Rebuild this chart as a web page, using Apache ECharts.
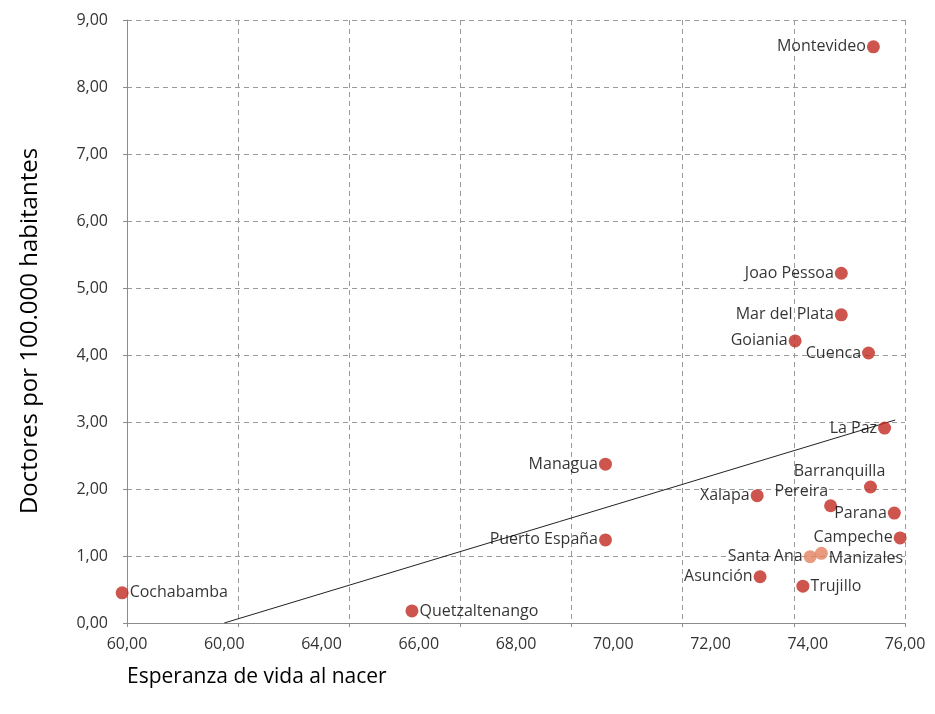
<!DOCTYPE html>
<html>
<head>
<meta charset="utf-8">
<script src="https://cdn.jsdelivr.net/npm/echarts@6/dist/echarts.min.js"></script>
<style>
html,body{margin:0;padding:0;background:#fff;}
#chart{width:935px;height:714px;}
</style>
</head>
<body>
<div id="chart"></div>
<script>
// ---- data ----
var cities = ['Montevideo','Joao Pessoa','Mar del Plata','Goiania','Cuenca','La Paz','Managua','Puerto España','Xalapa','Barranquilla','Pereira','Parana','Campeche','Santa Ana','Manizales','Asunción','Trujillo','Cochabamba','Quetzaltenango'];
var lifeExpectancy = [75.35,74.69,74.69,73.74,75.25,75.58,69.84,69.84,72.96,75.29,74.47,75.78,75.90,74.05,74.28,73.02,73.90,59.90,65.86];
var doctors = [8.60,5.22,4.60,4.21,4.03,2.91,2.37,1.24,1.90,2.03,1.75,1.64,1.27,0.99,1.04,0.69,0.55,0.45,0.18];
var highlighted = ['Santa Ana','Manizales'];
var trendX = [62.0, 75.8];
var trendY = [0.0, 3.03];
var xTickLabels = ['60,00','60,00','64,00','66,00','68,00','70,00','72,00','74,00','76,00'];
var yTickLabels = ['0,00','1,00','2,00','3,00','4,00','5,00','6,00','7,00','8,00','9,00'];
var xTitle = 'Esperanza de vida al nacer';
var yTitle = 'Doctores por 100.000 habitantes';

// ---- label placement (style) ----
var labelPlace = {
  'Barranquilla': {position:'top', offset:[-31,0]},
  'Pereira': {position:'left', offset:[5,-14]},
  'Manizales': {position:'right', offset:[0,5]},
  'Trujillo': {position:'right'},
  'Cochabamba': {position:'right'},
  'Quetzaltenango': {position:'right'}
};

var FONT = '"Open Sans", "Noto Sans", sans-serif';
var red = '#C22A20';
var light = '#E3825F';

var pts = cities.map(function(c,i){
  var lp = labelPlace[c] || {position:'left'};
  var isLight = highlighted.indexOf(c) >= 0;
  return {
    name: c,
    value: [lifeExpectancy[i], doctors[i]],
    itemStyle: {color: isLight ? light : red},
    label: {position: lp.position, offset: lp.offset || [0,0]}
  };
});

var chart = echarts.init(document.getElementById('chart'));
chart.setOption({
  animation: false,
  backgroundColor: '#fff',
  grid: {left:127, right:30, top:20, bottom:91, containLabel:false},
  xAxis: [{
    type:'value', min:60, max:76, interval:2,
    axisLine:{show:true, lineStyle:{color:'#8c8c8c', width:1}},
    axisTick:{show:false},
    splitLine:{show:false},
    axisLabel:{
      margin:13, color:'#333', fontSize:16, fontFamily:FONT,
      formatter:function(v){ var i=Math.round((v-60)/2); return xTickLabels[i]; }
    }
  },{
    type:'value', min:0, max:7, interval:1, position:'bottom',
    axisLine:{show:false},
    axisTick:{show:true, length:4, lineStyle:{color:'#8c8c8c'}},
    axisLabel:{show:false},
    splitLine:{show:true, lineStyle:{color:'#9a9a9a', type:[5,4], width:1}}
  }],
  yAxis: [{
    type:'value', min:0, max:9, interval:1,
    axisLine:{show:true, lineStyle:{color:'#8c8c8c', width:1}},
    axisTick:{show:true, length:4, lineStyle:{color:'#8c8c8c'}},
    splitLine:{show:true, lineStyle:{color:'#9a9a9a', type:[5,4], width:1}},
    axisLabel:{
      margin:19, color:'#333', fontSize:16, fontFamily:FONT,
      formatter:function(v){ return yTickLabels[Math.round(v)]; }
    }
  }],
  graphic: [
    {type:'line', shape:{x1:905.5,y1:20,x2:905.5,y2:623}, style:{stroke:'#9a9a9a', lineDash:[5,4], lineWidth:1}},
    {type:'text', left:127, top:667, style:{text:xTitle, font:'21px ' + FONT, fill:'#000'}},
    {type:'text', x:30, y:331, rotation:Math.PI/2, style:{text:yTitle, font:'24px ' + FONT, fill:'#000', textAlign:'center', textVerticalAlign:'middle'}}
  ],
  series: [{
    type:'line', xAxisIndex:0, yAxisIndex:0,
    data: trendX.map(function(x,i){ return [x, trendY[i]]; }),
    symbol:'none', lineStyle:{color:'#222', width:1}, z:3, silent:true
  },{
    type:'scatter', xAxisIndex:0, yAxisIndex:0, clip:false,
    symbolSize:13, z:5,
    data: pts,
    label:{show:true, formatter:'{b}', color:'#000', fontSize:16, fontFamily:FONT, distance:1}
  }]
});
</script>
</body>
</html>
